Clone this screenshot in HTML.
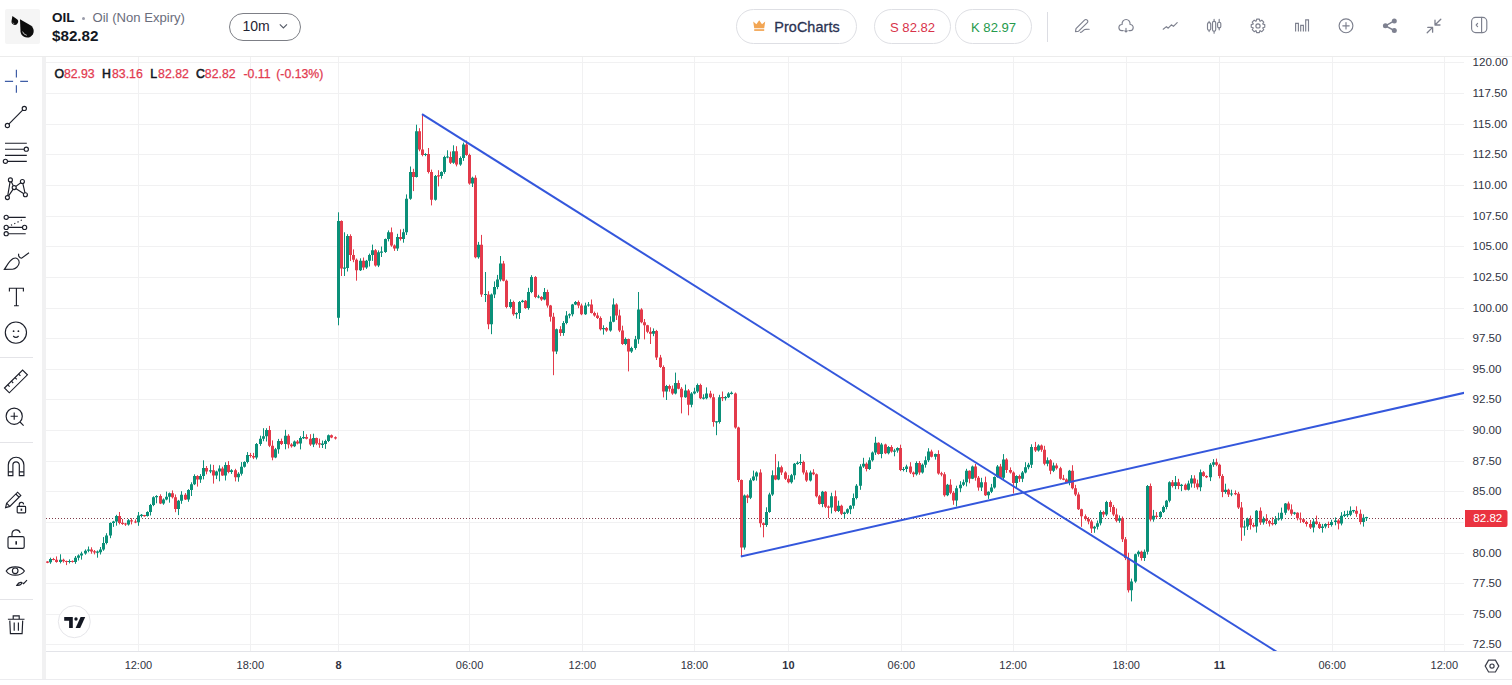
<!DOCTYPE html>
<html><head><meta charset="utf-8">
<style>
html,body{margin:0;padding:0;background:#fff;}
body{width:1512px;height:685px;overflow:hidden;position:relative;font-family:"Liberation Sans",sans-serif;}
.abs{position:absolute;}
#hdr{position:absolute;left:0;top:0;width:1512px;height:56px;border-bottom:1px solid #ececec;background:#fff;}
.logo{left:5px;top:9px;width:35px;height:35px;background:#f5f5f5;border-radius:2px;}
.sym{left:52px;top:10px;font-size:13.5px;font-weight:bold;color:#131722;white-space:nowrap;}
.desc{left:92.5px;top:10px;font-size:13.1px;color:#6a6d7c;white-space:nowrap;}
.dot{left:81.5px;top:16.5px;width:3.5px;height:3.5px;border-radius:50%;background:#9a9caa;}
.price{left:52px;top:27px;font-size:15.2px;font-weight:bold;color:#131722;white-space:nowrap;}
.pill{position:absolute;box-sizing:border-box;border-radius:20px;white-space:nowrap;}
.tf{left:229px;top:13px;width:72px;height:28px;border:1px solid #7d7f86;}
.tf span{position:absolute;left:12.5px;top:4.2px;font-size:14px;color:#1f2433;}
.pro{left:736px;top:9px;width:121px;height:35px;border:1px solid #dedfe4;}
.pro span{position:absolute;left:37.2px;top:8.5px;font-size:14.4px;color:#2b3352;letter-spacing:0.1px;-webkit-text-stroke:0.3px #2b3352;}
.sell{left:874px;top:9px;width:77px;height:35px;border:1px solid #dedfe4;}
.sell span{position:absolute;left:15px;top:10.2px;font-size:13.1px;color:#d8334a;}
.buy{left:955px;top:9px;width:77px;height:35px;border:1px solid #dedfe4;}
.buy span{position:absolute;left:15px;top:10.2px;font-size:13.1px;color:#259a4c;}
.sep{left:1046.5px;top:12px;width:1.5px;height:30px;background:#dcdde3;}
#ohlc{position:absolute;left:0;top:66.5px;font-size:12.3px;white-space:nowrap;color:#e23a50;}
#ohlc b{position:absolute;top:0;color:#131722;font-weight:normal;-webkit-text-stroke:0.55px #131722;}
#ohlc i{position:absolute;top:0;font-style:normal;-webkit-text-stroke:0.25px #e23a50;}
svg{position:absolute;left:0;top:0;}
</style></head>
<body>
<div id="hdr"></div>
<div class="abs logo"></div>
<svg width="46" height="46" style="left:0;top:0">
  <path d="M12.4 15.9 L16.69 18.89 A3.3 3.3 0 1 1 11.55 21.06 Z" fill="#0d0d0d"/>
  <path d="M20 19.3 L30.4 25.28 A6.6 6.6 0 1 1 20.51 31.28 Z" fill="#0d0d0d"/>
  <path d="M22.6 31.6 Q23.4 34.6 26.8 35.3" stroke="#e8e8e8" stroke-width="0.8" fill="none"/>
  <path d="M12.9 22.6 Q13.4 23.8 14.4 24" stroke="#cfcfcf" stroke-width="0.6" fill="none"/>
</svg>
<div class="abs sym">OIL</div>
<div class="abs dot"></div>
<div class="abs desc">Oil (Non Expiry)</div>
<div class="abs price">$82.82</div>
<div class="pill tf"><span>10m</span></div>
<svg width="1512" height="56" style="pointer-events:none">
  <!-- chevron -->
  <path d="M279.8 24.4 L283.4 28 L287 24.4" stroke="#555a66" stroke-width="1.1" fill="none"/>
</svg>
<div class="pill pro"><span>ProCharts</span></div>
<div class="pill sell"><span>S 82.82</span></div>
<div class="pill buy"><span>K 82.97</span></div>
<div class="abs sep"></div>
<svg width="1512" height="56" style="pointer-events:none">
  <!-- crown -->
  <path d="M753.2 21.5 L756.4 24.3 L759.2 20.3 L762.0 24.3 L765.2 21.5 L764.2 28.2 L754.2 28.2 Z" fill="#f2a553"/>
  <rect x="754.2" y="29.2" width="10" height="1.7" fill="#f2a553"/>
  <g stroke="#7d808e" stroke-width="1.15" fill="none" stroke-linecap="round" stroke-linejoin="round">
    <!-- pencil -->
    <path d="M1075.5 31.7 L1076 28.7 L1084.5 20.2 Q1085.9 18.8 1087.2 20.1 Q1088.5 21.4 1087.1 22.8 L1078.6 31.2 Z"/>
    <path d="M1080.4 32.3 C1082.6 32.5 1083.2 29.4 1085.4 29.4 L1089.2 29.3"/>
    <!-- cloud -->
    <path d="M1123.2 30.6 H1121.8 C1120 30.6 1118.9 29.2 1118.9 27.5 C1118.9 25.7 1120.3 24.4 1122.1 24.5 C1121.8 21.6 1123.7 19.5 1126.1 19.5 C1128.5 19.5 1130.3 21.6 1130.1 24.5 C1131.9 24.4 1133.2 25.7 1133.2 27.5 C1133.2 29.2 1132.1 30.6 1130.3 30.6 H1128.9"/>
    <path d="M1126 28.2 V32 M1124.8 30.8 L1126 32 L1127.2 30.8"/>
    <!-- wave -->
    <path d="M1163.2 29.2 L1166.4 26.6 L1168.2 28.2 L1171.4 24.8 L1173.4 26.4 L1177.2 22.6"/>
    <!-- candles -->
    <rect x="1207.5" y="22.6" width="3.2" height="7.6" rx="1.4"/>
    <path d="M1209.1 21.4 V22.6 M1209.1 30.2 V31.6"/>
    <rect x="1212.5" y="21.4" width="3.2" height="9.8" rx="1.4"/>
    <path d="M1214.1 19.2 V21.4 M1214.1 31.2 V33.2"/>
    <rect x="1217.6" y="22.2" width="3.2" height="5.6" rx="1.4"/>
    <path d="M1219.2 19.4 V22.2 M1219.2 27.8 V29.8"/>
    <!-- gear -->
    <path d="M1262.87 24.07 L1264.76 24.53 L1264.76 27.27 L1262.87 27.73 L1262.74 28.05 L1263.75 29.71 L1261.81 31.65 L1260.15 30.64 L1259.83 30.77 L1259.37 32.66 L1256.63 32.66 L1256.17 30.77 L1255.85 30.64 L1254.19 31.65 L1252.25 29.71 L1253.26 28.05 L1253.13 27.73 L1251.24 27.27 L1251.24 24.53 L1253.13 24.07 L1253.26 23.75 L1252.25 22.09 L1254.19 20.15 L1255.85 21.16 L1256.17 21.03 L1256.63 19.14 L1259.37 19.14 L1259.83 21.03 L1260.15 21.16 L1261.81 20.15 L1263.75 22.09 L1262.74 23.75 Z"/>
    <circle cx="1258" cy="25.9" r="2.1"/>
    <!-- bars -->
    <path d="M1295.6 31.6 V23.4 H1298.4 V31.6 M1300.7 31.6 V25.4 H1303.4 V31.6 M1305.7 31.6 V19.8 H1308.5 V31.6" stroke-linecap="butt" stroke-linejoin="miter"/>
    <!-- plus circle -->
    <circle cx="1346" cy="25.8" r="6.9"/>
    <path d="M1346 22.6 V29 M1342.8 25.8 H1349.2"/>
    <!-- share -->
    <path d="M1385.4 25.8 L1394.3 20.9 M1385.4 25.8 L1394.3 30.5" stroke-width="1.5"/>
    <!-- compress -->
    <path d="M1440.8 19.2 L1435 25 M1435 20.2 V25 H1440" stroke-width="1.3"/>
    <path d="M1427.2 32.8 L1432.6 27.4 M1427.8 27.4 H1432.6 V32.2" stroke-width="1.3"/>
    <!-- panel -->
    <rect x="1471.6" y="17.4" width="15.2" height="15.2" rx="4"/>
    <path d="M1481.6 17.4 V32.6"/>
    <path d="M1477.6 23.4 L1476.2 25 L1477.6 26.6"/>
  </g>
  <g fill="#7e8190">
    <circle cx="1394.3" cy="20.9" r="2.5"/>
    <circle cx="1385.4" cy="25.8" r="2.5"/>
    <circle cx="1394.3" cy="30.5" r="2.5"/>
  </g>
</svg>

<!-- left toolbar -->
<div class="abs" style="left:42px;top:57px;width:4px;height:622px;background:#f1f1f2"></div>
<svg width="46" height="685" style="left:0;top:0">
  <g stroke="#e4e4e8" stroke-width="1">
    <path d="M0 357.5 H33"/><path d="M0 442.5 H33"/><path d="M0 599.5 H33"/>
  </g>
  <!-- crosshair -->
  <g stroke="#3f5ea6" stroke-width="1.2">
    <path d="M16.4 69.8 V77.4 M16.4 85.2 V92.8 M4.9 81.4 H13.1 M20.2 81.4 H28"/>
  </g>
  <g stroke="#1c1f2a" stroke-width="1.15" fill="none">
    <!-- line tool -->
    <path d="M8.8 124.1 L22.9 109.8"/>
    <circle cx="7.4" cy="125.5" r="2.1"/>
    <circle cx="24.3" cy="108.4" r="2.1"/>
    <!-- parallel -->
    <path d="M5 143.2 H26.8 M5 149.2 H24 M5 155.3 H26.8 M7.6 161.3 H26.8"/>
    <circle cx="26.3" cy="149.2" r="2.1" fill="#fff"/>
    <circle cx="5.4" cy="161.3" r="2.1" fill="#fff"/>
    <!-- pattern -->
    <path d="M7.4 197.6 L10.4 179.9 L14.2 187.6 L7.4 197.6 M14.2 187.6 L22.4 181.5 L25.4 194.7 L14.2 187.6"/>
    <circle cx="10.4" cy="179.9" r="2" fill="#fff"/>
    <circle cx="22.4" cy="181.5" r="2" fill="#fff"/>
    <circle cx="14.2" cy="187.6" r="2" fill="#fff"/>
    <circle cx="7.4" cy="197.6" r="2" fill="#fff"/>
    <circle cx="25.4" cy="194.7" r="2" fill="#fff"/>
    <!-- fib -->
    <path d="M8.4 217.3 H25.7 M8.4 227.4 H22.5 M8.4 233.7 H25.7"/>
    <path d="M11 225.3 L23.6 219.2" stroke-dasharray="1.2 2.4"/>
    <circle cx="6.2" cy="217.3" r="2.1"/>
    <circle cx="6.2" cy="227.4" r="2.1"/>
    <circle cx="6.2" cy="233.7" r="2.1"/>
    <circle cx="24.6" cy="227.4" r="2.1"/>
    <!-- brush -->
    <path d="M4.4 269.4 C7 265.6 9 261 13.2 258.6 C16.6 256.8 19.4 259.6 19.2 262.8 C18.8 266.4 15.4 268.8 12.6 269.2 Z"/>
    <path d="M18.8 253.8 C18 255.8 19.4 258 21.6 258.2 L29 252.8"/>
    <!-- T -->
    <path d="M9.4 291.6 V288.2 H23.4 V291.6 M16.4 288.2 V305.7 M14 305.7 H18.8"/>
    <!-- smiley -->
    <circle cx="15.9" cy="332.6" r="10.6"/>
    <path d="M13.2 336 Q15.9 338.8 18.6 336"/>
    <!-- ruler -->
    <path d="M4.5 388 L22.6 370 L27.4 374.8 L9.3 392.8 Z"/>
    <path d="M7.8 384.8 L9.6 386.6 M11.4 381.2 L13.2 383 M15 377.6 L16.8 379.4 M18.6 374 L20.4 375.8"/>
    <!-- zoom -->
    <circle cx="14.2" cy="416.2" r="8.1"/>
    <path d="M14.2 412.6 V419.8 M10.6 416.2 H17.8 M20 422 L23.6 425.6"/>
    <!-- magnet -->
    <path d="M8.3 475.6 V465 A7.8 7.8 0 0 1 23.9 465 V475.6 H19.3 V465 A3.2 3.2 0 0 0 12.9 465 V475.6 Z"/>
    <path d="M8.3 471.8 H12.9 M19.3 471.8 H23.9"/>
    <!-- pencil lock -->
    <path d="M5.6 507.6 L6.6 503.2 L17.6 492.2 L20.8 495.4 L9.8 506.4 Z M6.6 503.2 L9.8 506.4 M15.8 494 L19 497.2"/>
    <rect x="17.2" y="506.4" width="8.4" height="6.4" rx="0.8"/>
    <path d="M19.2 506.4 V504.6 A2.2 2.2 0 0 1 23.6 504.4"/>
    <!-- lock -->
    <rect x="8" y="536.6" width="16.2" height="11.8" rx="1.6"/>
    <path d="M12 536.6 V533.6 A4.2 4.2 0 0 1 20.2 532.8"/>
    <!-- eye -->
    <path d="M6.2 571 C9.6 565.4 20.8 565.4 24.4 571 C20.8 576.6 9.6 576.6 6.2 571 Z"/>
    <circle cx="15.2" cy="570.8" r="2.8"/>
    <path d="M16.8 585.4 C18 583.2 19.4 582 21.4 582.4 C22.2 583.8 20.6 585.6 16.8 585.4 Z M22.4 582.6 L23.6 583.6 L27 580.2"/>
    <!-- trash -->
    <path d="M7.9 619.2 H24.5 M13.2 619.2 V615.8 H19.2 V619.2 M9.8 620.6 L10.4 633.6 H22.1 L22.7 620.6 M14.2 622.6 V630.8 M18.4 622.6 V630.8"/>
  </g>
  <g fill="#1c1f2a">
    <circle cx="13.6" cy="331.2" r="0.9"/><circle cx="18.4" cy="331.2" r="0.9"/>
    <rect x="15.4" y="541.2" width="1.6" height="3.4"/>
    <rect x="20.6" y="508.6" width="1.6" height="2.2"/>
  </g>
</svg>

<!-- chart -->
<svg width="1512" height="685" style="left:0;top:0">
  <defs><clipPath id="cp"><rect x="46" y="57" width="1418" height="594"/></clipPath></defs>
  <path d="M46 62.5H1464M46 93.5H1464M46 124.5H1464M46 154.5H1464M46 185.5H1464M46 216.5H1464M46 246.5H1464M46 277.5H1464M46 308.5H1464M46 338.5H1464M46 369.5H1464M46 399.5H1464M46 430.5H1464M46 461.5H1464M46 491.5H1464M46 522.5H1464M46 553.5H1464M46 583.5H1464M46 614.5H1464M46 644.5H1464M138.5 57V651M250.5 57V651M338.5 57V651M469.5 57V651M582.5 57V651M694.5 57V651M788.5 57V651M901.5 57V651M1013.5 57V651M1126.5 57V651M1219.5 57V651M1332.5 57V651M1444.5 57V651" stroke="#f1f1f2" stroke-width="1" fill="none"/>
  <path d="M46 651.5 H1512" stroke="#e3e4e9" stroke-width="1"/>
  <path d="M0 679.5 H1512" stroke="#ececef" stroke-width="1"/>
  <g clip-path="url(#cp)">
  <path d="M46 518.5 H1464" stroke="#7e3c4a" stroke-width="1" stroke-dasharray="1 2"/>
  <path d="M50.5 557.7V563.8M60.5 554.3V563.4M69.5 559.4V563.4M75.5 556V563.8M78.5 554.4V560.5M81.5 551.7V559.6M85.5 549.4V554.7M88.5 546.5V552.3M97.5 550.5V557.7M100.5 547V554.5M103.5 537.1V550.8M106.5 533.2V544.4M110.5 522.4V538.2M113.5 520.8V526.9M116.5 514.8V525.7M128.5 519V525.6M138.5 512V525.8M141.5 514V517.4M147.5 511.3V516.6M150.5 503.9V515.5M153.5 496.3V506.2M156.5 495.2V503.3M163.5 498.4V504.8M166.5 491.6V500.3M169.5 492.5V502.7M178.5 499.9V515.1M181.5 491.2V503.8M188.5 489.2V501.8M191.5 482.3V496M194.5 474.3V485.1M200.5 474.1V482.9M203.5 460.3V479.4M210.5 464.4V473.2M216.5 470.7V479.1M219.5 465.3V481.3M225.5 462.3V480.5M231.5 469.2V473.9M238.5 472.2V481.7M241.5 462.1V475.6M244.5 461.3V467.6M247.5 452.1V463.4M256.5 443V459.4M260.5 435.7V445.9M263.5 428.2V441.2M266.5 428.2V441.5M275.5 447.9V458.2M278.5 438.9V453.7M285.5 429.8V449.3M294.5 440.5V447.1M300.5 436.2V449.4M303.5 431V439M313.5 433.7V447.1M322.5 440.5V448M325.5 439.7V448.9M328.5 434.5V442.1M338.5 212.3V325.3M344.5 232.3V276M347.5 234.2V271.5M360.5 258.3V271M366.5 259.9V268.9M369.5 253.6V266.5M372.5 244.6V260.9M378.5 250.4V267.1M381.5 246.5V257M385.5 238.5V252.9M388.5 230.4V241.4M397.5 233.8V250.9M403.5 228.8V242.7M406.5 194.4V235M410.5 166.5V199.8M416.5 124.7V177.5M425.5 153.2V156.2M435.5 175V200.6M441.5 171.3V178.7M444.5 155.7V173.8M447.5 150.3V158.3M453.5 145.3V163.8M460.5 156.4V165.8M463.5 142.6V160.9M472.5 176.7V187M478.5 241.9V258.7M485.5 272V302M491.5 293.5V334.2M494.5 281.4V298.1M497.5 274.9V289.2M500.5 256V281.4M510.5 299.3V308.5M516.5 312.3V318.5M519.5 301V319M522.5 299.8V302.6M528.5 287.8V309.7M531.5 275.2V293.2M538.5 294.8V298.3M544.5 288V300.3M556.5 328.6V354.1M563.5 321.1V335.8M566.5 311.1V324.3M569.5 313.4V318.3M572.5 303.9V316.4M575.5 301V305.1M585.5 302.7V314.9M588.5 302V306.7M603.5 325.3V334.6M610.5 316.3V331.7M613.5 298.4V322.3M625.5 337.5V345.2M631.5 346.7V352.9M635.5 335.9V349.7M638.5 292V343.8M653.5 328.4V336.2M666.5 384.9V400M675.5 372.6V394.4M685.5 384.6V397.8M691.5 392.1V407.3M694.5 387.7V394.4M697.5 383.5V392.9M703.5 394.3V399.5M706.5 387.4V399.3M716.5 421V435.2M719.5 394.8V423.6M725.5 396.1V400.5M728.5 392.2V398M731.5 391.5V394.5M744.5 494.5V549.7M750.5 478.3V499.1M753.5 470.6V481.1M756.5 471.4V480.6M766.5 507.3V526.9M769.5 492.7V512.8M772.5 470.4V495.9M778.5 461.3V480.2M791.5 473.9V483.6M794.5 463V479.6M797.5 461.3V464.7M800.5 454.1V465M810.5 470.6V481.5M822.5 490.9V507.2M831.5 492.7V513.5M838.5 500.7V512M844.5 511.7V518.4M847.5 508.4V514.1M850.5 505.2V514.1M853.5 493.5V508.7M856.5 484.1V499.4M860.5 464.2V489.8M863.5 457.8V467.9M869.5 457.4V469.9M872.5 451.5V461.6M875.5 436.8V454.9M881.5 442.9V458.3M888.5 446.1V454.4M894.5 448.8V456.3M897.5 447.3V452.6M903.5 467V471.4M906.5 464.7V472.1M916.5 461.3V475.5M922.5 463.5V473.6M925.5 456.4V467.6M928.5 448.2V462.1M935.5 453.6V459.6M947.5 483.9V496.2M956.5 485.7V506.5M960.5 481.2V492.2M963.5 479.5V486.1M966.5 468.8V486.4M972.5 465.6V479.1M981.5 477.8V491M988.5 491.4V498.9M991.5 483.9V493.1M994.5 476.4V488.6M997.5 465V477.7M1003.5 454.1V480.2M1016.5 475.3V489M1022.5 471V482.1M1025.5 462.2V473.4M1028.5 462.8V469.3M1031.5 444.3V468M1038.5 444.3V451.6M1047.5 457.4V466.3M1053.5 462.6V472.1M1069.5 469.9V485.3M1094.5 525.8V532.8M1097.5 520.5V529.5M1100.5 510.3V525.4M1106.5 500.8V516.1M1119.5 515.4V522.8M1131.5 578.6V601.4M1135.5 553.6V582.8M1138.5 550.5V556.7M1144.5 549.5V561M1147.5 485V554.5M1153.5 509.9V521.7M1160.5 511.1V518.6M1163.5 505.6V513M1166.5 499.9V509.3M1169.5 481.3V502.4M1175.5 476V489.2M1181.5 483.9V491.2M1188.5 480.6V490.5M1191.5 475.1V487.5M1200.5 469.5V491.2M1210.5 463.1V481.1M1213.5 459.1V466.8M1225.5 483.7V493.8M1231.5 489.7V496.2M1244.5 520.5V535.7M1247.5 517.7V530M1256.5 510.1V532.6M1263.5 516.5V524.6M1275.5 516V525.2M1278.5 512.7V520.7M1281.5 507.6V520.5M1285.5 503V514.9M1294.5 511.9V514.8M1313.5 518.7V532.4M1322.5 523.9V532.6M1325.5 523.3V528.4M1331.5 519.7V526.6M1335.5 517.4V525.3M1341.5 512.2V525.4M1344.5 510.9V517.1M1347.5 510.6V517.1M1350.5 506.4V516.1M1353.5 509.9V512.7M1363.5 514.3V526.6M1366.5 516.8V521" stroke="#0b9079" stroke-width="1" fill="none"/><path d="M49 559.1h3V562.3h-3zM59 559.8h3V561.9h-3zM68 560.9h3V562.1h-3zM74 557.7h3V561.9h-3zM77 555.6h3V557.7h-3zM80 553.5h3V555.6h-3zM84 550.8h3V553.5h-3zM87 549.4h3V550.8h-3zM96 551.6h3V552.8h-3zM99 549.4h3V552.2h-3zM102 543.1h3V549.4h-3zM105 535.5h3V543.1h-3zM109 523h3V535.5h-3zM112 521.6h3V523h-3zM115 516.1h3V521.6h-3zM127 520.2h3V524.4h-3zM137 515.4h3V522.3h-3zM140 514.8h3V516h-3zM146 511.9h3V516h-3zM149 505h3V511.9h-3zM152 497.3h3V505h-3zM155 496h3V497.3h-3zM162 499.4h3V503.6h-3zM165 496.7h3V499.4h-3zM168 493.2h3V496.7h-3zM177 500.8h3V509.1h-3zM180 494.7h3V500.8h-3zM187 490h3V499.4h-3zM190 484.2h3V490h-3zM193 476h3V484.2h-3zM199 476h3V479.6h-3zM202 467.9h3V476h-3zM209 470.2h3V471.4h-3zM215 471.4h3V475.5h-3zM218 468.5h3V471.4h-3zM224 465h3V475.5h-3zM230 470.2h3V472h-3zM237 473.7h3V477.2h-3zM240 466.7h3V473.7h-3zM243 462h3V466.7h-3zM246 455h3V462h-3zM255 444h3V457.4h-3zM259 438.7h3V444h-3zM262 436.3h3V438.7h-3zM265 430h3V436.3h-3zM274 449.2h3V457.4h-3zM277 441h3V449.2h-3zM284 435.8h3V444h-3zM293 441.6h3V446.3h-3zM299 438.1h3V443.4h-3zM302 436.9h3V438.2h-3zM312 438.1h3V444.5h-3zM321 443.6h3V444.9h-3zM324 441h3V444h-3zM327 435.2h3V441h-3zM337 220.9h3V317.7h-3zM343 267.6h3V268.8h-3zM346 236h3V268h-3zM359 260.8h3V270.2h-3zM365 260.8h3V267.4h-3zM368 255h3V260.8h-3zM371 250.3h3V255h-3zM377 252.2h3V265.5h-3zM380 251.5h3V252.7h-3zM384 238.9h3V252h-3zM387 232.3h3V238.9h-3zM396 237h3V248.4h-3zM402 232.3h3V239h-3zM405 198.7h3V232.3h-3zM409 172.1h3V198.7h-3zM415 131.3h3V176.9h-3zM424 153.9h3V155.1h-3zM434 175.9h3V199.7h-3zM440 172.1h3V176h-3zM443 157h3V172.1h-3zM446 156.4h3V157.6h-3zM452 151.3h3V162.7h-3zM459 158h3V164.6h-3zM462 144.6h3V158h-3zM471 177.8h3V183.5h-3zM477 244.8h3V257.2h-3zM484 293.9h3V295.1h-3zM490 294.5h3V324.3h-3zM493 287h3V294.5h-3zM496 279.6h3V287h-3zM499 263.4h3V279.6h-3zM509 302h3V307h-3zM515 313h3V314.3h-3zM518 302h3V313h-3zM521 300.7h3V302h-3zM527 292h3V308h-3zM530 277h3V292h-3zM537 296.4h3V297.6h-3zM543 292h3V299.4h-3zM555 329.2h3V351.6h-3zM562 323h3V333h-3zM565 315.6h3V323h-3zM568 314.3h3V315.6h-3zM571 304.4h3V314.3h-3zM574 302h3V304.4h-3zM584 305.6h3V314.3h-3zM587 304.4h3V305.6h-3zM602 328h3V329.2h-3zM609 321.8h3V330.5h-3zM612 304.4h3V321.8h-3zM624 339h3V344h-3zM630 347.9h3V351.6h-3zM634 339.2h3V347.9h-3zM637 309.4h3V339.2h-3zM652 330.9h3V333.7h-3zM665 385.9h3V391.5h-3zM674 383h3V393.4h-3zM684 390.6h3V397.2h-3zM690 393.4h3V404.8h-3zM693 391.5h3V393.4h-3zM696 384.9h3V391.5h-3zM702 397.6h3V398.8h-3zM705 393.4h3V398.2h-3zM715 421.3h3V422.5h-3zM718 397.2h3V421.9h-3zM724 397.1h3V398.3h-3zM727 393.4h3V397.2h-3zM730 392.8h3V394h-3zM743 495.4h3V547.4h-3zM749 480.2h3V497.7h-3zM752 476.6h3V480.2h-3zM755 472.6h3V476.6h-3zM765 511.9h3V525h-3zM768 494.4h3V511.9h-3zM771 475.2h3V494.4h-3zM777 467.3h3V479.5h-3zM790 475.2h3V482.2h-3zM793 463.8h3V475.2h-3zM796 462.8h3V464h-3zM799 461.9h3V463.1h-3zM809 472.5h3V480.4h-3zM821 491.8h3V504h-3zM830 496.2h3V507.5h-3zM837 505.8h3V511h-3zM843 512.6h3V513.9h-3zM846 509.3h3V512.8h-3zM849 505.8h3V509.3h-3zM852 497.9h3V505.8h-3zM855 485.7h3V497.9h-3zM859 466.4h3V485.7h-3zM862 463.8h3V466.4h-3zM868 460.3h3V469h-3zM871 452.4h3V460.3h-3zM874 442.8h3V452.4h-3zM880 444.5h3V454h-3zM887 447.1h3V453.3h-3zM893 450.4h3V451.7h-3zM896 448h3V450.6h-3zM902 468.9h3V470.1h-3zM905 466.4h3V469h-3zM915 462.9h3V474.3h-3zM921 464.7h3V472.5h-3zM924 460.3h3V464.7h-3zM927 451.5h3V460.3h-3zM934 454.1h3V456.8h-3zM946 484.8h3V495.3h-3zM955 488.3h3V500.5h-3zM959 484.8h3V488.3h-3zM962 482.2h3V484.8h-3zM965 470.8h3V482.2h-3zM971 466.4h3V478.7h-3zM980 482.2h3V487.4h-3zM987 491.8h3V495.3h-3zM990 487.4h3V491.8h-3zM993 476.9h3V487.4h-3zM996 466.4h3V476.9h-3zM1002 459.4h3V477.8h-3zM1015 476h3V483h-3zM1021 472.5h3V478.7h-3zM1024 467.3h3V472.5h-3zM1027 464.7h3V467.3h-3zM1030 447.1h3V464.7h-3zM1037 445.4h3V450.6h-3zM1046 460.3h3V463.8h-3zM1052 465.5h3V470.8h-3zM1068 470.8h3V482.2h-3zM1093 526.8h3V528.6h-3zM1096 523.3h3V526.8h-3zM1099 512h3V523.3h-3zM1105 502h3V514.5h-3zM1118 518.2h3V520.7h-3zM1130 581.5h3V590.2h-3zM1134 554.2h3V581.5h-3zM1137 551.7h3V554.2h-3zM1143 551.7h3V558h-3zM1146 486h3V551.7h-3zM1152 515.7h3V519.5h-3zM1159 512h3V517h-3zM1162 507h3V512h-3zM1165 500.8h3V507h-3zM1168 482.2h3V500.8h-3zM1174 482.2h3V486h-3zM1180 484.7h3V486h-3zM1187 483.5h3V489.7h-3zM1190 478.5h3V483.5h-3zM1199 472.3h3V487.2h-3zM1209 464.8h3V477.2h-3zM1212 462.3h3V464.8h-3zM1224 489.7h3V492.1h-3zM1230 493.4h3V494.6h-3zM1243 526.4h3V527.6h-3zM1246 518.8h3V526.5h-3zM1255 510.7h3V526.5h-3zM1262 518.8h3V522.4h-3zM1274 519.3h3V524h-3zM1277 518.4h3V519.6h-3zM1280 512.7h3V518.8h-3zM1284 503.5h3V512.7h-3zM1293 512.6h3V513.8h-3zM1312 521.4h3V527.5h-3zM1321 526.5h3V528h-3zM1324 524h3V526.5h-3zM1330 521.9h3V525h-3zM1334 520.4h3V521.9h-3zM1340 515.8h3V523.4h-3zM1343 514.6h3V515.9h-3zM1346 514.1h3V515.3h-3zM1349 510.7h3V514.7h-3zM1352 510.1h3V511.3h-3zM1362 517.8h3V521.9h-3zM1365 517h3V518.2h-3z" fill="#0b9079"/><path d="M47.5 561.2V563.2M53.5 557.9V560.3M56.5 556.4V562.7M63.5 558.7V562.6M66.5 560.6V565.1M72.5 560.4V562.6M91.5 547.3V553.7M94.5 550V554.4M119.5 512V524.4M122.5 519V524.9M125.5 522.9V525.9M131.5 518.3V524.4M135.5 519.4V523.2M144.5 514.9V516.7M160.5 494.3V504.1M172.5 490.4V498.5M175.5 494.5V512.2M185.5 493.1V500M197.5 475.2V486.6M206.5 466V474.3M213.5 464.9V483.6M222.5 466.7V475.9M228.5 461.1V473.3M235.5 468.8V481.4M250.5 452.9V457.7M253.5 452.9V459.1M269.5 425.9V447.1M272.5 440.4V460.3M281.5 438.6V445M288.5 434.2V448.4M291.5 443.2V447.6M297.5 440V444.4M306.5 434.3V439.4M310.5 434.2V445.9M316.5 437.6V445.1M319.5 438.6V447.8M331.5 434.5V438.2M335.5 436.4V439.5M341.5 220.4V276M350.5 234.3V261M353.5 249.4V262.2M356.5 258.5V280.7M363.5 257.5V270.1M375.5 249.1V266.6M391.5 227.5V246.8M394.5 244.4V250.9M400.5 229.4V240.6M413.5 168.8V191.1M419.5 128.2V151.3M422.5 114.2V156.3M428.5 148V173.5M431.5 169.6V205.4M438.5 170.2V186.4M450.5 151.6V164M456.5 146.2V166.4M466.5 140.5V155.8M469.5 153.7V184.7M475.5 175.3V258.3M481.5 234.9V296.9M488.5 291.2V329.2M503.5 260.9V281.4M506.5 279.6V308.3M513.5 300.7V315.8M525.5 300V308.9M535.5 276.1V298.2M541.5 296.1V300.9M547.5 289.7V307.6M550.5 304.9V321.6M553.5 312.8V375.2M560.5 326.2V336.1M578.5 300.5V308.2M581.5 303.6V315.2M591.5 299.5V313.5M594.5 311.6V316.7M597.5 312.6V319M600.5 316.4V330.5M606.5 327V331.8M616.5 303.3V320M619.5 309.6V332.1M622.5 325.7V344.9M628.5 338.6V371.4M641.5 308.2V323.3M644.5 319V339.4M647.5 324.8V333.2M650.5 327.3V344M656.5 329.9V360M660.5 354.9V367.9M663.5 365.4V397.4M669.5 384.6V391.7M672.5 385.5V394.8M678.5 380.3V389.3M681.5 387.1V413.4M688.5 389.1V415.3M700.5 383.7V399.1M710.5 390.8V398.4M713.5 393.8V426.7M722.5 391.5V401.1M735.5 392.5V428.7M738.5 426.7V482.1M741.5 479.5V556.5M747.5 494.3V503.1M760.5 469.3V527.3M763.5 522.4V537.3M775.5 454.1V480.2M781.5 465.6V475M785.5 471.3V480M788.5 475.1V483.4M803.5 460.7V474.5M806.5 470.2V481.9M813.5 469.2V475.2M816.5 473.5V497.5M819.5 494.9V504.7M825.5 491.1V508.1M828.5 505.5V518M835.5 490.5V512.2M841.5 504.7V515.1M866.5 462.4V471.4M878.5 442.3V454.6M885.5 443.7V454.1M891.5 445.2V452.6M900.5 444.7V471.1M910.5 462.2V474M913.5 471.5V477.1M919.5 461V474.8M931.5 449.7V457.4M938.5 450.3V474.7M941.5 471.8V476.3M944.5 472.2V496.7M950.5 479.3V494.2M953.5 491.1V504.8M969.5 470.4V483.3M975.5 464V480.7M978.5 476V490.7M985.5 476.6V496M1000.5 463.9V479M1006.5 458.2V472.9M1010.5 467.4V473.6M1013.5 471.4V493.5M1019.5 474.6V481.9M1035.5 441.9V452M1041.5 444.5V451.8M1044.5 445.8V465.3M1050.5 459.1V474.2M1056.5 463.3V469.6M1060.5 466.8V479.7M1063.5 474.9V480.2M1066.5 478.4V483.1M1072.5 465.2V489.4M1075.5 484.8V496.1M1078.5 492.3V510M1081.5 508.7V526.8M1085.5 514.4V520.6M1088.5 517V524.3M1091.5 519.8V533M1103.5 510.8V517.3M1110.5 500.4V512M1113.5 504.9V516.1M1116.5 508.5V522.3M1122.5 516.5V542M1125.5 537V560.1M1128.5 552.7V592.5M1141.5 550.7V560.6M1150.5 483.5V521.4M1156.5 512.1V518.2M1172.5 480V487.5M1178.5 478.8V489.2M1185.5 483.5V490.3M1194.5 475.3V487.9M1197.5 479.7V489.5M1203.5 471.1V476.7M1206.5 475.3V478.1M1216.5 458.6V466.2M1219.5 463.7V478.4M1222.5 474.2V497.2M1228.5 488.7V497M1235.5 490.4V495.2M1238.5 491.9V509M1241.5 502V540.8M1250.5 515.6V529.6M1253.5 522.8V527.4M1260.5 507.4V524.9M1266.5 514.2V524M1269.5 519.9V526.5M1272.5 517.3V525.5M1288.5 501.6V510.7M1291.5 504.4V515.7M1297.5 512.3V520.4M1300.5 512.5V522.9M1303.5 518.9V523.1M1306.5 520.8V526.6M1310.5 520V529M1316.5 515.6V524.7M1319.5 521.9V529M1328.5 521.6V528M1338.5 519.1V529.4M1356.5 506.3V516.9M1360.5 509.6V524.4" stroke="#e33b4b" stroke-width="1" fill="none"/><path d="M46 561.5h3V562.8h-3zM52 558.9h3V560.1h-3zM55 559.8h3V561.9h-3zM62 559.8h3V561.2h-3zM65 560.9h3V562.1h-3zM71 560.9h3V562.1h-3zM90 549.4h3V551.5h-3zM93 551.2h3V552.5h-3zM118 516.1h3V523h-3zM121 522.8h3V524h-3zM124 523.4h3V524.6h-3zM130 520.2h3V521.6h-3zM134 521.4h3V522.6h-3zM143 515.1h3V516.3h-3zM159 496h3V503.6h-3zM171 493.2h3V497.3h-3zM174 497.3h3V509.1h-3zM184 494.7h3V499.4h-3zM196 476h3V479.6h-3zM205 467.9h3V471.4h-3zM212 470.2h3V475.5h-3zM221 468.5h3V475.5h-3zM227 465h3V472h-3zM234 470.2h3V477.2h-3zM249 454.9h3V456.1h-3zM252 456h3V457.4h-3zM268 430h3V445.7h-3zM271 445.7h3V457.4h-3zM280 441h3V444h-3zM287 435.8h3V444.5h-3zM290 444.5h3V446.3h-3zM296 441.6h3V443.4h-3zM305 437h3V438.7h-3zM309 438.7h3V444.5h-3zM315 438.1h3V443.4h-3zM318 443.3h3V444.6h-3zM330 435.2h3V437.5h-3zM334 437.2h3V438.4h-3zM340 220.9h3V268.4h-3zM349 236h3V255h-3zM352 255h3V259.8h-3zM355 259.8h3V270.2h-3zM362 260.8h3V267.4h-3zM374 250.3h3V265.5h-3zM390 232.3h3V245.6h-3zM393 245.6h3V248.4h-3zM399 237h3V239h-3zM412 172.1h3V176.9h-3zM418 131.3h3V149.4h-3zM421 149.4h3V155h-3zM427 154h3V172.1h-3zM430 172.1h3V199.7h-3zM437 175.3h3V176.5h-3zM449 157h3V162.7h-3zM455 151.3h3V164.6h-3zM465 144.6h3V155.1h-3zM468 155.1h3V183.5h-3zM474 177.8h3V257.2h-3zM480 244.8h3V294.5h-3zM487 294.5h3V324.3h-3zM502 263.4h3V280.8h-3zM505 280.8h3V307h-3zM512 302h3V314.3h-3zM524 300.7h3V308h-3zM534 277h3V297h-3zM540 297h3V299.4h-3zM546 292h3V305.6h-3zM549 305.6h3V316.8h-3zM552 316.8h3V351.6h-3zM559 329.2h3V333h-3zM577 302h3V305.6h-3zM580 305.6h3V314.3h-3zM590 304.4h3V313h-3zM593 313h3V315.6h-3zM596 315.6h3V318h-3zM599 318h3V329.2h-3zM605 328h3V330.5h-3zM615 304.4h3V315.6h-3zM618 315.6h3V330.5h-3zM621 330.5h3V344h-3zM627 339h3V351.6h-3zM640 309.4h3V322.3h-3zM643 322.3h3V325.2h-3zM646 325.2h3V331.8h-3zM649 331.8h3V333.7h-3zM655 330.9h3V357.4h-3zM659 357.4h3V366.9h-3zM662 366.9h3V391.5h-3zM668 385.9h3V388.7h-3zM671 388.7h3V393.4h-3zM677 383h3V388.7h-3zM680 388.7h3V397.2h-3zM687 390.6h3V404.8h-3zM699 384.9h3V398.2h-3zM709 393.4h3V397.2h-3zM712 397.2h3V421.9h-3zM721 397.1h3V398.3h-3zM734 393.4h3V427.6h-3zM737 427.6h3V480h-3zM740 480h3V547.4h-3zM746 495.4h3V497.7h-3zM759 472.6h3V523.3h-3zM762 523.3h3V525h-3zM774 475.2h3V479.5h-3zM780 467.3h3V472.5h-3zM784 472.5h3V478.7h-3zM787 478.7h3V482.2h-3zM802 462h3V472.5h-3zM805 472.5h3V480.4h-3zM812 472.5h3V474.3h-3zM815 474.3h3V496.2h-3zM818 496.2h3V504h-3zM824 491.8h3V506.7h-3zM827 506.5h3V507.7h-3zM834 496.2h3V511h-3zM840 505.8h3V513.7h-3zM865 463.8h3V469h-3zM877 442.8h3V454h-3zM884 444.5h3V453.3h-3zM890 447.1h3V451.5h-3zM899 448h3V470h-3zM909 466.4h3V472.5h-3zM912 472.5h3V474.3h-3zM918 462.9h3V472.5h-3zM930 451.5h3V456.8h-3zM937 454.1h3V473.4h-3zM940 473.2h3V474.5h-3zM943 474.3h3V495.3h-3zM949 484.8h3V492.7h-3zM952 492.7h3V500.5h-3zM968 470.8h3V478.7h-3zM974 466.4h3V477.8h-3zM977 477.8h3V487.4h-3zM984 482.2h3V495.3h-3zM999 466.4h3V477.8h-3zM1005 459.4h3V469.9h-3zM1009 469.9h3V472.5h-3zM1012 472.5h3V483h-3zM1018 476h3V478.7h-3zM1034 447.1h3V450.6h-3zM1040 445.4h3V449.8h-3zM1043 449.8h3V463.8h-3zM1049 460.3h3V470.8h-3zM1055 465.5h3V468.2h-3zM1059 468.2h3V478.7h-3zM1062 478.5h3V479.7h-3zM1065 479.5h3V482.2h-3zM1071 470.8h3V488.3h-3zM1074 488.3h3V494.4h-3zM1077 494.4h3V509.3h-3zM1080 509.3h3V516.3h-3zM1084 516.3h3V518.9h-3zM1087 518.9h3V521.6h-3zM1090 521.6h3V528.6h-3zM1102 512h3V514.5h-3zM1109 502h3V507h-3zM1112 507h3V514.5h-3zM1115 514.5h3V520.7h-3zM1121 518.2h3V539.3h-3zM1124 539.3h3V558h-3zM1127 558h3V590.2h-3zM1140 551.7h3V558h-3zM1149 486h3V519.5h-3zM1155 515.7h3V517h-3zM1171 482.2h3V486h-3zM1177 482.2h3V486h-3zM1184 484.7h3V489.7h-3zM1193 478.5h3V483.5h-3zM1196 483.5h3V487.2h-3zM1202 472.3h3V476h-3zM1205 476h3V477.2h-3zM1215 462.3h3V464.8h-3zM1218 464.8h3V476h-3zM1221 476h3V492.1h-3zM1227 489.7h3V494.6h-3zM1234 493h3V494.2h-3zM1237 493.8h3V507.6h-3zM1240 507.6h3V527.5h-3zM1249 518.8h3V525h-3zM1252 525h3V526.5h-3zM1259 510.7h3V522.4h-3zM1265 518.8h3V520.9h-3zM1268 520.9h3V523.4h-3zM1271 523.1h3V524.3h-3zM1287 503.5h3V509.6h-3zM1290 509.6h3V513.7h-3zM1296 512.7h3V518.3h-3zM1299 518.2h3V519.4h-3zM1302 519.3h3V521.9h-3zM1305 521.9h3V523.9h-3zM1309 523.9h3V527.5h-3zM1315 521.4h3V523.9h-3zM1318 523.9h3V528h-3zM1327 523.9h3V525.1h-3zM1337 520.4h3V523.4h-3zM1355 510.7h3V513.7h-3zM1359 513.7h3V521.9h-3z" fill="#e33b4b"/>
  <path d="M422 114.2 L1300 666.5" stroke="#3457dc" stroke-width="2" fill="none"/>
  <path d="M740.8 556.5 L1464.7 392.7" stroke="#3457dc" stroke-width="2" fill="none"/>
  </g>
  <g font-family="Liberation Sans, sans-serif" font-size="11.6" fill="#2f3241">
  <text x="1472.5" y="66">120.00</text><text x="1472.5" y="97">117.50</text><text x="1472.5" y="128">115.00</text><text x="1472.5" y="158">112.50</text><text x="1472.5" y="189">110.00</text><text x="1472.5" y="220">107.50</text><text x="1472.5" y="250">105.00</text><text x="1472.5" y="281">102.50</text><text x="1472.5" y="312">100.00</text><text x="1472.5" y="342">97.50</text><text x="1472.5" y="373">95.00</text><text x="1472.5" y="403">92.50</text><text x="1472.5" y="434">90.00</text><text x="1472.5" y="465">87.50</text><text x="1472.5" y="495">85.00</text><text x="1472.5" y="526">82.50</text><text x="1472.5" y="557">80.00</text><text x="1472.5" y="587">77.50</text><text x="1472.5" y="618">75.00</text><text x="1472.5" y="648">72.50</text>
  </g>
  <path d="M1465 510 H1505.5 A2 2 0 0 1 1507.5 512 V525 A2 2 0 0 1 1505.5 527 H1465 Z" fill="#ea3340"/>
  <text x="1473.3" y="522.4" font-family="Liberation Sans, sans-serif" font-size="11.6" fill="#fff">82.82</text>
  <g font-family="Liberation Sans, sans-serif" font-size="11" fill="#2f3241" text-anchor="middle">
  <text x="138.4" y="669">12:00</text><text x="250.3" y="669">18:00</text><text x="338.6" y="669" font-weight="bold">8</text><text x="469.6" y="669">06:00</text><text x="582.3" y="669">12:00</text><text x="694.4" y="669">18:00</text><text x="788.4" y="669" font-weight="bold">10</text><text x="901.3" y="669">06:00</text><text x="1013.1" y="669">12:00</text><text x="1126.2" y="669">18:00</text><text x="1219.5" y="669" font-weight="bold">11</text><text x="1332.2" y="669">06:00</text><text x="1444.3" y="669">12:00</text>
  </g>
  <!-- settings hex -->
  <path d="M1488.6 660.2 H1495.4 L1498.8 666.1 L1495.4 672 H1488.6 L1485.2 666.1 Z" stroke="#3a3d48" stroke-width="1.2" fill="none"/>
  <circle cx="1492" cy="666.1" r="2.1" stroke="#3a3d48" stroke-width="1.2" fill="none"/>
  <!-- TV logo -->
  <circle cx="74.3" cy="621.7" r="16" fill="#fff" stroke="#e6e6ea" stroke-width="1"/>
  <path d="M64.2 617.1 H72.8 V627.9 H69.1 V620.8 H64.2 Z" fill="#131722"/>
  <circle cx="76" cy="619" r="1.7" fill="#131722"/>
  <path d="M80.6 617.1 H85.2 L80.2 627.9 H75.6 Z" fill="#131722"/>
</svg>
<div id="ohlc"><b style="left:54.4px">O</b><i style="left:63.9px">82.93</i><b style="left:102px">H</b><i style="left:112px">83.16</i><b style="left:150.2px">L</b><i style="left:158.1px">82.82</i><b style="left:195.9px">C</b><i style="left:204.8px">82.82</i><i style="left:243.5px">-0.11</i><i style="left:276.2px">(-0.13%)</i></div>
</body></html>
